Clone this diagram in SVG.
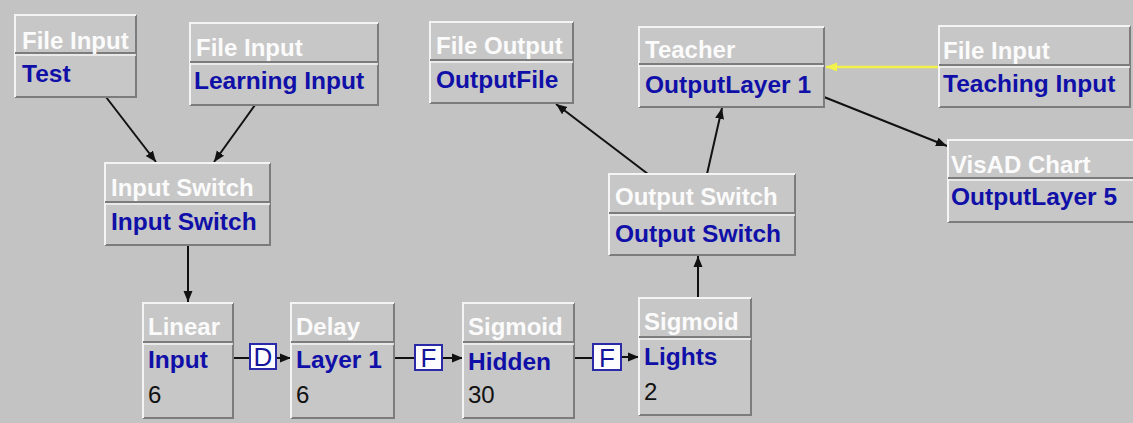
<svg xmlns="http://www.w3.org/2000/svg" width="1133" height="423" viewBox="0 0 1133 423">
  <style>
    .bg { fill: #c3c3c3; }
    .box { fill: #c7c7c7; }
    .hi { fill: none; stroke: #f4f4f4; stroke-width: 2; }
    .sh { fill: none; stroke: #7c7c7c; stroke-width: 2; }
    .div-sh { stroke: #7c7c7c; stroke-width: 2; }
    .div-hi { stroke: #f4f4f4; stroke-width: 1.5; }
    .hdr { font-family: "Liberation Sans", Arial, sans-serif; font-weight: bold; font-size: 24px; fill: #fbfbfb; }
    .name { font-family: "Liberation Sans", Arial, sans-serif; font-weight: bold; font-size: 24.5px; fill: #1010a8; }
    .num { font-family: "Liberation Sans", Arial, sans-serif; font-size: 24px; fill: #111111; }
    .link { fill: none; stroke: #111111; stroke-width: 2; }
    .teach { fill: none; stroke: #f2f24a; stroke-width: 2.5; }
    .syn { fill: #fcfcff; stroke: #2a2aa8; stroke-width: 2; }
    .synlbl { font-family: "Liberation Sans", Arial, sans-serif; font-size: 26px; fill: #14149a; text-anchor: middle; }
  </style>
  <defs>
    <marker id="arrow" markerUnits="userSpaceOnUse" markerWidth="12" markerHeight="10" refX="11" refY="5" orient="auto">
      <path d="M0,0.5 L11,5 L0,9.5 Z" fill="#111111"/>
    </marker>
    <marker id="arrowYellow" markerUnits="userSpaceOnUse" markerWidth="12" markerHeight="10" refX="11" refY="5" orient="auto">
      <path d="M0,0.5 L11,5 L0,9.5 Z" fill="#f2f24a"/>
    </marker>
  </defs>

  <rect class="bg" x="0" y="0" width="1133" height="423"/>

  <!-- connectors -->
  <g id="connectors">
    <line class="link" x1="106" y1="97" x2="156" y2="162" marker-end="url(#arrow)"/>
    <line class="link" x1="255" y1="105" x2="214" y2="162" marker-end="url(#arrow)"/>
    <line class="link" x1="188" y1="245" x2="188" y2="302" marker-end="url(#arrow)"/>
    <line class="link" x1="648" y1="174" x2="556" y2="104" marker-end="url(#arrow)"/>
    <line class="link" x1="707" y1="174" x2="722" y2="108" marker-end="url(#arrow)"/>
    <line class="link" x1="698" y1="298" x2="698" y2="256" marker-end="url(#arrow)"/>
    <line class="link" x1="824" y1="97" x2="947" y2="146" marker-end="url(#arrow)"/>
    <line class="teach" x1="939" y1="67" x2="826" y2="67" marker-end="url(#arrowYellow)"/>

    <!-- synapses between layers -->
    <line class="link" x1="233" y1="358" x2="250" y2="358"/>
    <line class="link" x1="277" y1="358" x2="291" y2="358" marker-end="url(#arrow)"/>
    <line class="link" x1="394" y1="358" x2="415" y2="358"/>
    <line class="link" x1="442" y1="358" x2="463" y2="358" marker-end="url(#arrow)"/>
    <line class="link" x1="574" y1="358" x2="593" y2="358"/>
    <line class="link" x1="621" y1="357" x2="639" y2="357" marker-end="url(#arrow)"/>
    <g id="syn-d">
      <rect class="syn" x="250" y="344" width="26" height="25"/>
      <text class="synlbl" x="263" y="366">D</text>
    </g>
    <g id="syn-f1">
      <rect class="syn" x="415" y="345" width="27" height="25"/>
      <text class="synlbl" x="428.5" y="367">F</text>
    </g>
    <g id="syn-f2">
      <rect class="syn" x="593" y="344" width="28" height="26"/>
      <text class="synlbl" x="607" y="367">F</text>
    </g>
  </g>

  <!-- File Input: Test -->
  <g id="file-input-test" transform="translate(15,15)">
    <rect class="box" width="121" height="82"/>
    <path class="sh" d="M121,0 V82 H0"/>
    <path class="hi" d="M0,82 V0 H121"/>
    <line class="div-sh" x1="0" y1="38" x2="121" y2="38"/>
    <line class="div-hi" x1="0" y1="40" x2="121" y2="40"/>
    <text class="hdr" x="7" y="34">File Input</text>
    <text class="name" x="7" y="67">Test</text>
  </g>

  <!-- File Input: Learning Input -->
  <g id="file-input-learning" transform="translate(190,23)">
    <rect class="box" width="188" height="82"/>
    <path class="sh" d="M188,0 V82 H0"/>
    <path class="hi" d="M0,82 V0 H188"/>
    <line class="div-sh" x1="0" y1="39" x2="188" y2="39"/>
    <line class="div-hi" x1="0" y1="41" x2="188" y2="41"/>
    <text class="hdr" x="6" y="33">File Input</text>
    <text class="name" x="4" y="66">Learning Input</text>
  </g>

  <!-- File Output -->
  <g id="file-output" transform="translate(430,22)">
    <rect class="box" width="143" height="81"/>
    <path class="sh" d="M143,0 V81 H0"/>
    <path class="hi" d="M0,81 V0 H143"/>
    <line class="div-sh" x1="0" y1="38" x2="143" y2="38"/>
    <line class="div-hi" x1="0" y1="40" x2="143" y2="40"/>
    <text class="hdr" x="6" y="32">File Output</text>
    <text class="name" x="6" y="66">OutputFile</text>
  </g>

  <!-- Teacher -->
  <g id="teacher" transform="translate(639,27)">
    <rect class="box" width="185" height="80"/>
    <path class="sh" d="M185,0 V80 H0"/>
    <path class="hi" d="M0,80 V0 H185"/>
    <line class="div-sh" x1="0" y1="37" x2="185" y2="37"/>
    <line class="div-hi" x1="0" y1="39" x2="185" y2="39"/>
    <text class="hdr" x="6" y="31">Teacher</text>
    <text class="name" x="6" y="66">OutputLayer 1</text>
  </g>

  <!-- File Input: Teaching Input -->
  <g id="file-input-teaching" transform="translate(939,26)">
    <rect class="box" width="191" height="81"/>
    <path class="sh" d="M191,0 V81 H0"/>
    <path class="hi" d="M0,81 V0 H191"/>
    <line class="div-sh" x1="0" y1="39" x2="191" y2="39"/>
    <line class="div-hi" x1="0" y1="41" x2="191" y2="41"/>
    <text class="hdr" x="4" y="33">File Input</text>
    <text class="name" x="4" y="66">Teaching Input</text>
  </g>

  <!-- VisAD Chart -->
  <g id="visad-chart" transform="translate(948,140)">
    <rect class="box" width="186" height="82"/>
    <path class="sh" d="M186,0 V82 H0"/>
    <path class="hi" d="M0,82 V0 H186"/>
    <line class="div-sh" x1="0" y1="38" x2="186" y2="38"/>
    <line class="div-hi" x1="0" y1="40" x2="186" y2="40"/>
    <text class="hdr" x="3" y="33">VisAD Chart</text>
    <text class="name" x="3" y="65">OutputLayer 5</text>
  </g>

  <!-- Input Switch -->
  <g id="input-switch" transform="translate(105,163)">
    <rect class="box" width="165" height="82"/>
    <path class="sh" d="M165,0 V82 H0"/>
    <path class="hi" d="M0,82 V0 H165"/>
    <line class="div-sh" x1="0" y1="39" x2="165" y2="39"/>
    <line class="div-hi" x1="0" y1="41" x2="165" y2="41"/>
    <text class="hdr" x="6" y="33">Input Switch</text>
    <text class="name" x="6" y="67">Input Switch</text>
  </g>

  <!-- Output Switch -->
  <g id="output-switch" transform="translate(609,174)">
    <rect class="box" width="186" height="81"/>
    <path class="sh" d="M186,0 V81 H0"/>
    <path class="hi" d="M0,81 V0 H186"/>
    <line class="div-sh" x1="0" y1="39" x2="186" y2="39"/>
    <line class="div-hi" x1="0" y1="41" x2="186" y2="41"/>
    <text class="hdr" x="6" y="31">Output Switch</text>
    <text class="name" x="6" y="68">Output Switch</text>
  </g>

  <!-- Linear: Input -->
  <g id="layer-input" transform="translate(143,303)">
    <rect class="box" width="90" height="115"/>
    <path class="sh" d="M90,0 V115 H0"/>
    <path class="hi" d="M0,115 V0 H90"/>
    <line class="div-sh" x1="0" y1="39" x2="90" y2="39"/>
    <line class="div-hi" x1="0" y1="41" x2="90" y2="41"/>
    <text class="hdr" x="5" y="32">Linear</text>
    <text class="name" x="5" y="65">Input</text>
    <text class="num" x="5" y="100">6</text>
  </g>

  <!-- Delay: Layer 1 -->
  <g id="layer-1" transform="translate(291,303)">
    <rect class="box" width="103" height="115"/>
    <path class="sh" d="M103,0 V115 H0"/>
    <path class="hi" d="M0,115 V0 H103"/>
    <line class="div-sh" x1="0" y1="39" x2="103" y2="39"/>
    <line class="div-hi" x1="0" y1="41" x2="103" y2="41"/>
    <text class="hdr" x="5" y="32">Delay</text>
    <text class="name" x="5" y="65">Layer 1</text>
    <text class="num" x="5" y="100">6</text>
  </g>

  <!-- Sigmoid: Hidden -->
  <g id="layer-hidden" transform="translate(463,303)">
    <rect class="box" width="111" height="115"/>
    <path class="sh" d="M111,0 V115 H0"/>
    <path class="hi" d="M0,115 V0 H111"/>
    <line class="div-sh" x1="0" y1="39" x2="111" y2="39"/>
    <line class="div-hi" x1="0" y1="41" x2="111" y2="41"/>
    <text class="hdr" x="5" y="32">Sigmoid</text>
    <text class="name" x="5" y="67">Hidden</text>
    <text class="num" x="5" y="100">30</text>
  </g>

  <!-- Sigmoid: Lights -->
  <g id="layer-lights" transform="translate(639,298)">
    <rect class="box" width="112" height="117"/>
    <path class="sh" d="M112,0 V117 H0"/>
    <path class="hi" d="M0,117 V0 H112"/>
    <line class="div-sh" x1="0" y1="39" x2="112" y2="39"/>
    <line class="div-hi" x1="0" y1="41" x2="112" y2="41"/>
    <text class="hdr" x="5" y="32">Sigmoid</text>
    <text class="name" x="5" y="67">Lights</text>
    <text class="num" x="5" y="102">2</text>
  </g>
</svg>
